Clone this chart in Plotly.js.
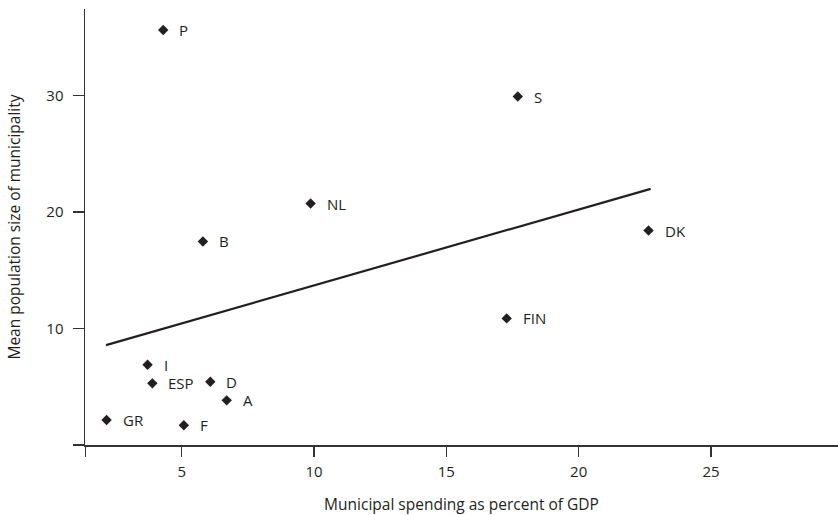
<!DOCTYPE html>
<html>
<head>
<meta charset="utf-8">
<script src="https://cdn.plot.ly/plotly-3.0.1.min.js"></script>
<style>html,body{margin:0;padding:0;background:#fff;}#chart{width:838px;height:515px;}</style>
</head>
<body>
<div id="chart"></div>
<script>
const countries = ['P','S','NL','B','DK','FIN','I','ESP','D','A','GR','F'];
const spending = [4.30, 17.70, 9.87, 5.80, 22.64, 17.28, 3.71, 3.89, 6.08, 6.70, 2.16, 5.08];
const popSize = [35.6, 29.89, 20.71, 17.46, 18.40, 10.86, 6.88, 5.29, 5.43, 3.83, 2.14, 1.69];
const trendX = [2.14, 22.72];
const trendY = [8.57, 21.97];
const xTickVals = [1.36, 5, 10, 15, 20, 25];
const xTickText = ['', '5', '10', '15', '20', '25'];
const yTickVals = [0, 10, 20, 30];
const yTickText = ['', '10', '20', '30'];

const font = "'Open Sans', 'Noto Sans', sans-serif";
const ink = '#231f20';

const traces = [
  {
    x: trendX, y: trendY, mode: 'lines', type: 'scatter',
    line: {color: ink, width: 2.2}, hoverinfo: 'skip', showlegend: false
  },
  {
    x: spending, y: popSize, mode: 'markers', type: 'scatter',
    marker: {symbol: 'diamond', size: 8, color: ink},
    text: countries, showlegend: false
  }
];

const annotations = countries.map((c, i) => ({
  x: spending[i], y: popSize[i], text: c, showarrow: false,
  xanchor: 'left', yanchor: 'middle', xshift: 14,
  font: {family: font, size: 15, color: ink}
}));

const layout = {
  width: 838, height: 515,
  margin: {l: 85, r: 0, t: 9, b: 70},
  paper_bgcolor: '#fff', plot_bgcolor: '#fff',
  font: {family: font, size: 15, color: ink},
  showlegend: false,
  xaxis: {
    range: [1.345, 29.8], showgrid: false, zeroline: false,
    showline: true, linecolor: '#333', linewidth: 1.5,
    ticks: 'outside', ticklen: 10, tickwidth: 1.5, tickcolor: '#333',
    tickmode: 'array', tickvals: xTickVals, ticktext: xTickText,
    ticklabelstandoff: 2,
    tickfont: {family: font, size: 15, color: ink},
    title: {text: 'Municipal spending as percent of GDP', font: {family: font, size: 15.5, color: ink}, standoff: 22}
  },
  yaxis: {
    range: [0, 37.4], showgrid: false, zeroline: false,
    showline: true, linecolor: '#333', linewidth: 1.5,
    ticks: 'outside', ticklen: 11, tickwidth: 1.5, tickcolor: '#333',
    tickmode: 'array', tickvals: yTickVals, ticktext: yTickText,
    ticklabelstandoff: 6,
    tickfont: {family: font, size: 15, color: ink},
    title: {text: 'Mean population size of municipality', font: {family: font, size: 15.5, color: ink}, standoff: 22}
  },
  annotations: annotations
};

Plotly.newPlot('chart', traces, layout, {displayModeBar: false, staticPlot: true});
</script>
</body>
</html>
